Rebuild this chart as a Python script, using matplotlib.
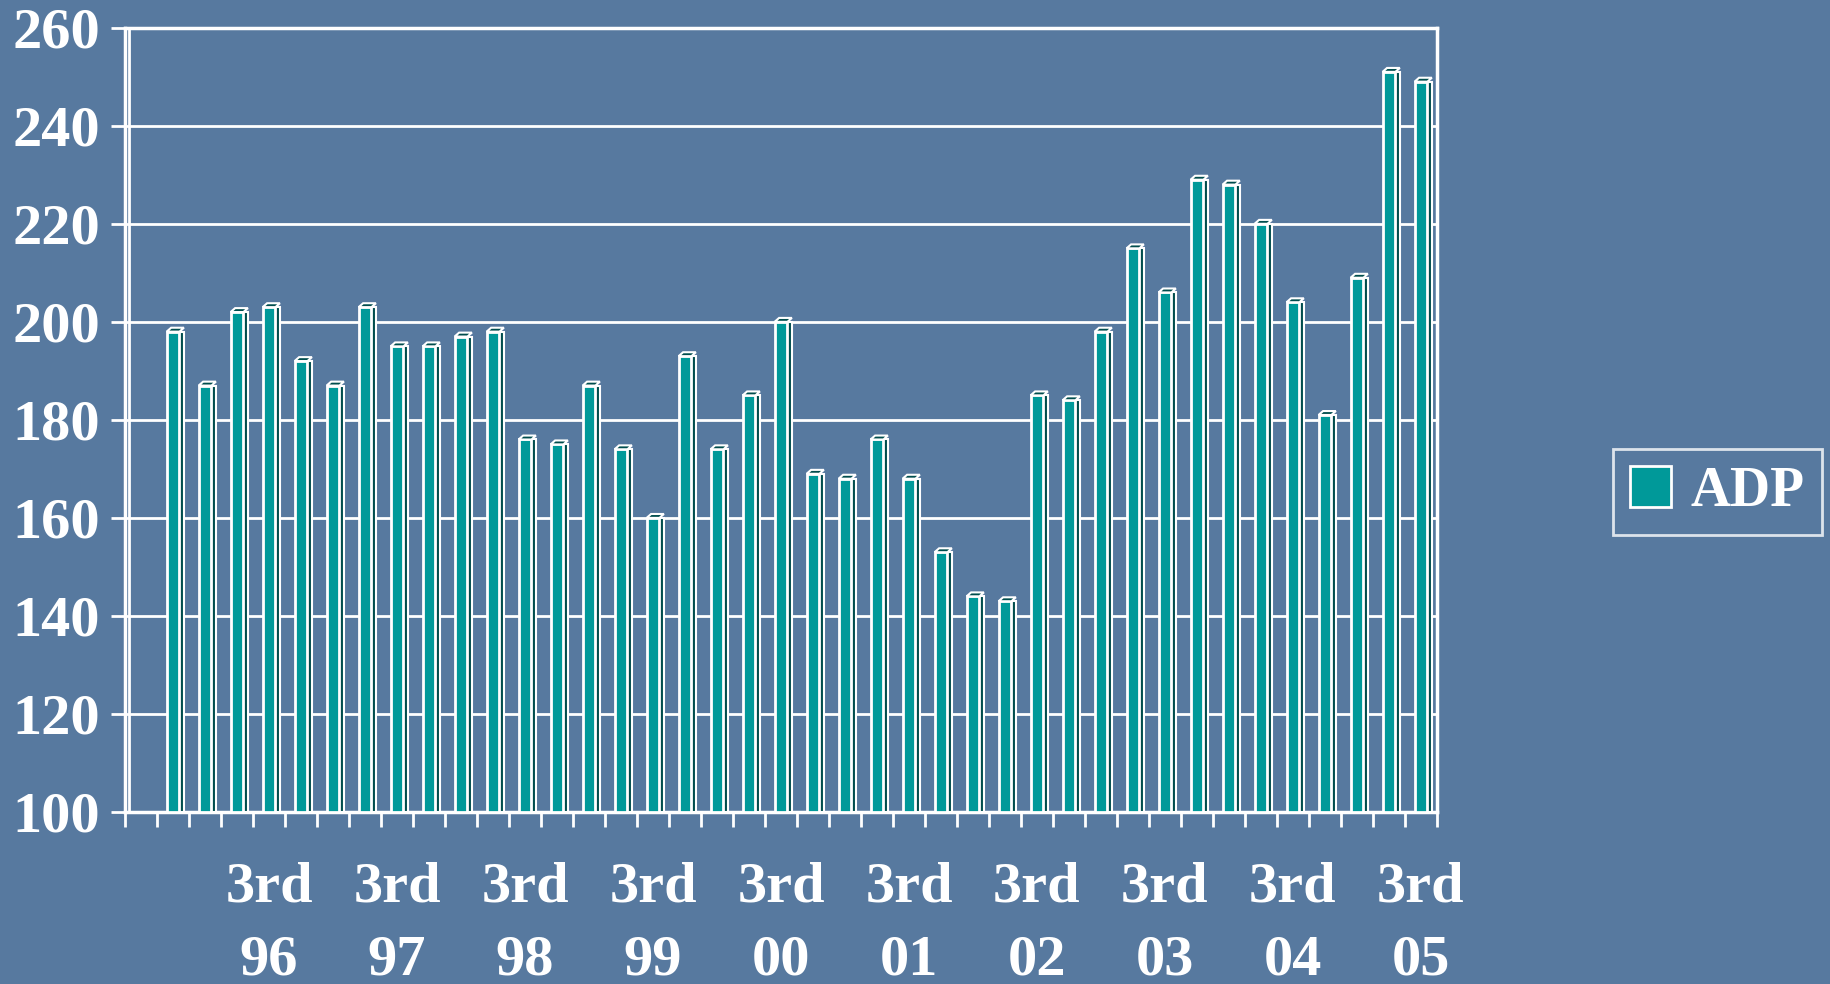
import numpy as np
import matplotlib.pyplot as plt

# ADP, quarterly; first category (3rd 95) has no bar
adp = [np.nan,
       198, 187, 202, 203, 192, 187, 203, 195, 195, 197,
       198, 176, 175, 187, 174, 160, 193, 174, 185, 200,
       169, 168, 176, 168, 153, 144, 143, 185, 184, 198,
       215, 206, 229, 228, 220, 204, 181, 209, 251, 249]
years = ["96", "97", "98", "99", "00", "01", "02", "03", "04", "05"]
label_idx = [4, 8, 12, 16, 20, 24, 28, 32, 36, 40]

bg = "#57799f"
teal = "#009999"
dark = "#004d4d"

plt.rcParams["font.family"] = ["Liberation Serif", "DejaVu Serif"]
plt.rcParams["font.weight"] = "bold"

fig = plt.figure(figsize=(18.31, 9.84), dpi=100, facecolor=bg)
ax = fig.add_axes([0.0683, 0.1748, 0.7165, 0.797])
ax.set_facecolor("none")

x = np.arange(len(adp))
vals = np.array(adp, dtype=float)
ax.bar(x + 0.27, vals - 100, width=0.14, bottom=100, color=dark,
       edgecolor="white", linewidth=1.5, zorder=3)
bars = ax.bar(x, vals - 100, width=0.4, bottom=100, color=teal,
              edgecolor="white", linewidth=2, zorder=4, label="ADP")
# little top faces for the 3D look
for xi, v in zip(x, vals):
    if np.isnan(v):
        continue
    ax.fill([xi - 0.2, xi + 0.2, xi + 0.34, xi - 0.06],
            [v, v, v + 0.8, v + 0.8], facecolor=dark,
            edgecolor="white", linewidth=1.5, zorder=5)

ax.set_xlim(-0.5, len(adp) - 0.5)
ax.set_ylim(100, 260)
ax.set_yticks(np.arange(100, 261, 20))
ax.yaxis.grid(True, color="white", linewidth=2)
ax.set_axisbelow(True)
ax.axvline(-0.38, color="white", linewidth=2, zorder=2)

for s in ax.spines.values():
    s.set_color("white")
    s.set_linewidth(2.5)

# tick marks at category boundaries, labels at 3rd quarters
ax.set_xticks(np.arange(-0.5, len(adp), 1.0))
ax.set_xticklabels([])
ax.set_xticks(label_idx, minor=True)
ax.set_xticklabels(["3rd\n" + y for y in years], minor=True, linespacing=1.52)
ax.tick_params(axis="x", which="major", length=11, width=2, color="white")
ax.tick_params(axis="x", which="minor", length=0, pad=36,
               labelsize=42, labelcolor="white")
ax.tick_params(axis="y", length=10, width=2, color="white", pad=8,
               labelsize=42, labelcolor="white")

leg = fig.legend(handles=[bars], labels=["ADP"],
                 loc="center left", bbox_to_anchor=(0.881, 0.5),
                 borderaxespad=0, fontsize=40, frameon=True, fancybox=False,
                 handlelength=0.75, handleheight=0.75, handletextpad=0.35,
                 borderpad=0.3)
leg.get_frame().set_facecolor("none")
leg.get_frame().set_edgecolor("white")
leg.get_frame().set_linewidth(2)
for t in leg.get_texts():
    t.set_color("white")

fig.savefig("out.png", facecolor=bg)
